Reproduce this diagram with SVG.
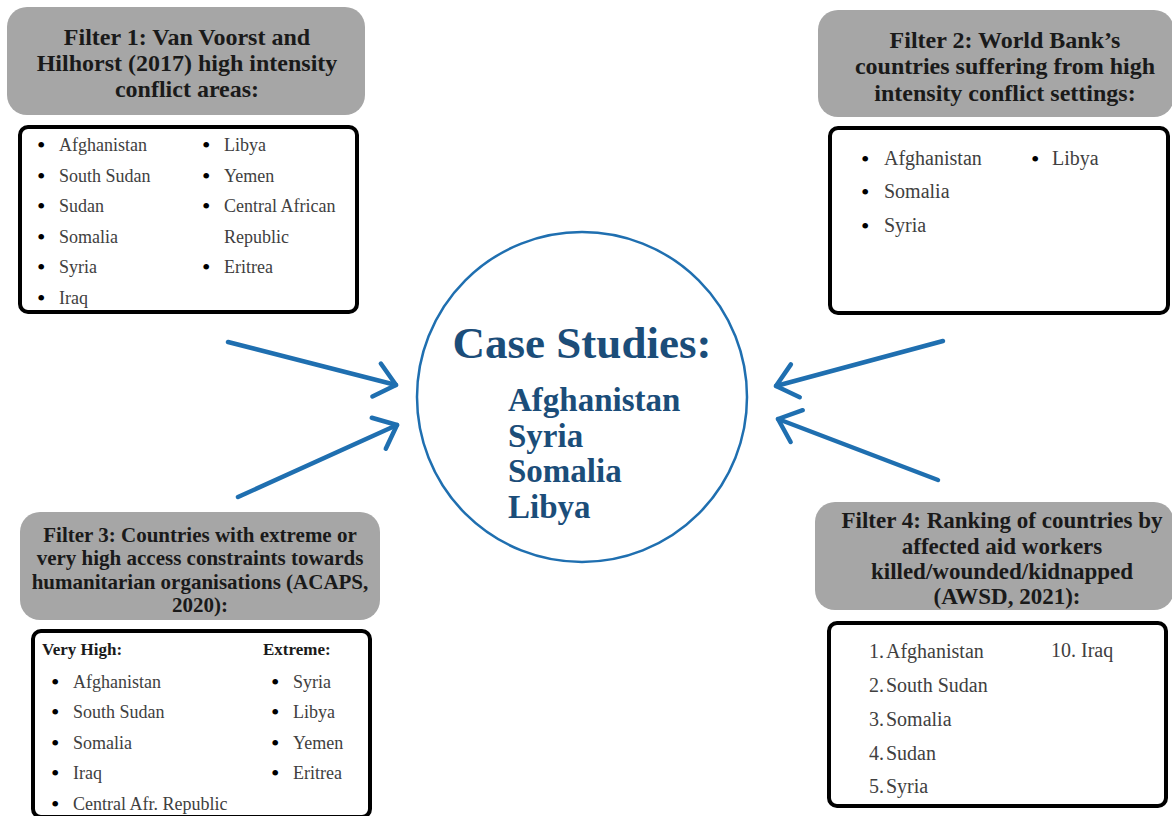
<svg xmlns="http://www.w3.org/2000/svg" width="1172" height="816" viewBox="0 0 1172 816">
<style>
.hdr{fill:#a6a6a6}
.box{fill:#fff;stroke:#000;stroke-width:4}
.ht{font-family:"Liberation Serif",serif;font-weight:bold;font-size:24px;fill:#1a1a1a;text-anchor:middle}
.ht21{font-size:21px}
.ht23{font-size:23px}
.li{font-family:"Liberation Serif",serif;font-size:18px;fill:#404040}
.li20{font-size:20px}
.bu{font-family:"Liberation Serif",serif;font-size:24px;fill:#000}
.sub{font-family:"Liberation Serif",serif;font-weight:bold;font-size:17px;fill:#1a1a1a}
.arr{stroke:#1f6fb0;stroke-width:4.5;fill:none;stroke-linecap:round}
.cs{font-family:"Liberation Serif",serif;font-weight:bold;fill:#1b4d79}
</style>
<defs>
<marker id="ah" markerUnits="userSpaceOnUse" markerWidth="40" markerHeight="40" refX="24" refY="20" orient="auto">
<path d="M4,3 L24,20 L4,37" fill="none" stroke="#1f6fb0" stroke-width="4.5" stroke-linecap="round" stroke-linejoin="round"/>
</marker>
</defs>
<rect width="1172" height="816" fill="#fff"/>

<g id="connectors">
<line class="arr" x1="228" y1="342" x2="396" y2="385" marker-end="url(#ah)"/>
<line class="arr" x1="238" y1="497" x2="397" y2="425" marker-end="url(#ah)"/>
<line class="arr" x1="943" y1="341" x2="776" y2="386" marker-end="url(#ah)"/>
<line class="arr" x1="938" y1="480" x2="778" y2="419" marker-end="url(#ah)"/>
</g>

<g id="case-studies">
<circle cx="582" cy="397" r="165" fill="none" stroke="#1f6fb0" stroke-width="2.5"/>
<text class="cs" x="582" y="358" font-size="45" text-anchor="middle">Case Studies:</text>
<text class="cs" x="508" y="411" font-size="33">Afghanistan</text>
<text class="cs" x="508" y="447" font-size="33">Syria</text>
<text class="cs" x="508" y="482" font-size="33">Somalia</text>
<text class="cs" x="508" y="518" font-size="33">Libya</text>
</g>

<g id="filter1">
<rect class="hdr" x="7" y="7" width="358" height="108" rx="20"/>
<text class="ht" x="187" y="45">Filter 1: Van Voorst and</text>
<text class="ht" x="187" y="71">Hilhorst (2017) high intensity</text>
<text class="ht" x="187" y="97">conflict areas:</text>
<rect class="box" x="20" y="127" width="337" height="185" rx="8"/>
<g class="bu"><text x="37" y="153">•</text><text x="37" y="184">•</text><text x="37" y="214">•</text><text x="37" y="245">•</text><text x="37" y="275">•</text><text x="37" y="306">•</text>
<text x="202" y="153">•</text><text x="202" y="184">•</text><text x="202" y="214">•</text><text x="202" y="275">•</text></g>
<g class="li"><text x="59" y="151">Afghanistan</text><text x="59" y="182">South Sudan</text><text x="59" y="212">Sudan</text><text x="59" y="243">Somalia</text><text x="59" y="273">Syria</text><text x="59" y="304">Iraq</text>
<text x="224" y="151">Libya</text><text x="224" y="182">Yemen</text><text x="224" y="212">Central African</text><text x="224" y="243">Republic</text><text x="224" y="273">Eritrea</text></g>
</g>

<g id="filter2">
<rect class="hdr" x="818" y="10" width="356" height="107" rx="20"/>
<text class="ht" x="1005" y="48">Filter 2: World Bank’s</text>
<text class="ht" x="1005" y="74">countries suffering from high</text>
<text class="ht" x="1005" y="101">intensity conflict settings:</text>
<rect class="box" x="830" y="128" width="338" height="185" rx="8"/>
<g class="bu"><text x="861" y="167">•</text><text x="861" y="200">•</text><text x="861" y="234">•</text><text x="1031" y="167">•</text></g>
<g class="li li20"><text x="884" y="165">Afghanistan</text><text x="884" y="198">Somalia</text><text x="884" y="232">Syria</text><text x="1052" y="165">Libya</text></g>
</g>

<g id="filter3">
<rect class="hdr" x="20" y="512" width="360" height="108" rx="20"/>
<text class="ht ht21" x="200" y="542">Filter 3: Countries with extreme or</text>
<text class="ht ht21" x="200" y="565">very high access constraints towards</text>
<text class="ht ht21" x="200" y="589">humanitarian organisations (ACAPS,</text>
<text class="ht ht21" x="200" y="612">2020):</text>
<rect class="box" x="33" y="631" width="337" height="186" rx="8"/>
<text class="sub" x="42" y="655">Very High:</text>
<text class="sub" x="263" y="655">Extreme:</text>
<g class="bu"><text x="51" y="690">•</text><text x="51" y="720">•</text><text x="51" y="751">•</text><text x="51" y="781">•</text><text x="51" y="812">•</text>
<text x="271" y="690">•</text><text x="271" y="720">•</text><text x="271" y="751">•</text><text x="271" y="781">•</text></g>
<g class="li"><text x="73" y="688">Afghanistan</text><text x="73" y="718">South Sudan</text><text x="73" y="749">Somalia</text><text x="73" y="779">Iraq</text><text x="73" y="810">Central Afr. Republic</text>
<text x="293" y="688">Syria</text><text x="293" y="718">Libya</text><text x="293" y="749">Yemen</text><text x="293" y="779">Eritrea</text></g>
</g>

<g id="filter4">
<rect class="hdr" x="815" y="502" width="359" height="108" rx="20"/>
<text class="ht ht23" x="1002" y="528">Filter 4: Ranking of countries by</text>
<text class="ht ht23" x="1002" y="554">affected aid workers</text>
<text class="ht ht23" x="1002" y="579">killed/wounded/kidnapped</text>
<text class="ht ht23" x="1007" y="604">(AWSD, 2021):</text>
<rect class="box" x="829" y="623" width="337" height="183" rx="8"/>
<g class="li li20"><text x="869" y="658">1.</text><text x="886" y="658">Afghanistan</text><text x="869" y="692">2.</text><text x="886" y="692">South Sudan</text><text x="869" y="726">3.</text><text x="886" y="726">Somalia</text><text x="869" y="760">4.</text><text x="886" y="760">Sudan</text><text x="869" y="793">5.</text><text x="886" y="793">Syria</text><text x="1051" y="657">10. Iraq</text></g>
</g>
</svg>
